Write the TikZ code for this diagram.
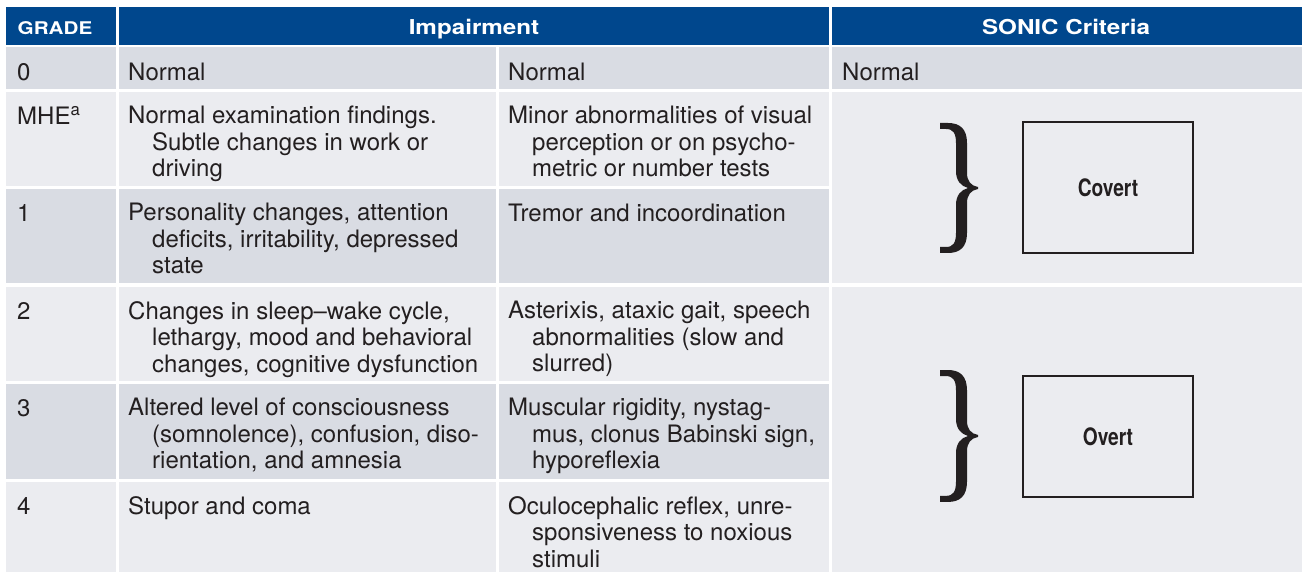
\documentclass[tikz,border=0pt]{standalone}
\usepackage{fontspec}
\setmainfont{TeX Gyre Heros}
\newfontfamily\condfont[FakeStretch=0.80]{TeX Gyre Heros}
\newfontfamily\widefont[FakeStretch=1.18]{TeX Gyre Heros}
\definecolor{hdrblue}{RGB}{0,71,141}
\definecolor{rowdark}{RGB}{217,220,227}
\definecolor{rowlight}{RGB}{235,236,240}
\definecolor{ink}{RGB}{35,31,32}
\tikzset{
  % body text: the node is placed by the baseline of its first line minus 18pt
  body/.style={anchor=north west, inner sep=0pt, align=left, text=ink,
    font=\fontsize{24}{26.5}\selectfont,
    execute at begin node={\rule{0pt}{18pt}}},
  hdr/.style={anchor=base, inner sep=0pt, text=white,
    font=\fontsize{20.5}{24}\selectfont\widefont\bfseries},
  stage/.style={draw=ink, line width=2pt, text=ink, inner sep=0pt,
    font=\fontsize{24}{26}\selectfont\condfont\bfseries},
}
% curly brace, 38 wide and 130 high, opening to the left
\newcommand{\bracefill}{%
  \fill[ink] (0,0) -- (8,0) .. controls (20,0) and (27,6) .. (27,20) -- (27,50)
    .. controls (27,58) and (31,63) .. (38,64) -- (38,66)
    .. controls (31,67) and (27,72) .. (27,80) -- (27,110)
    .. controls (27,124) and (20,130) .. (8,130) -- (0,130) -- (0,124) -- (6,124)
    .. controls (13,124) and (16,120) .. (16,110) -- (16,82)
    .. controls (16,72) and (21,67) .. (28,65)
    .. controls (21,63) and (16,58) .. (16,48) -- (16,20)
    .. controls (16,10) and (13,6) .. (6,6) -- (0,6) -- cycle;}
\newcommand{\hi}{\hspace*{24pt}}
\begin{document}
\begin{tikzpicture}[x=1pt,y=-1pt]
\useasboundingbox (0,0) rectangle (1302,572);
\fill[white] (0,0) rectangle (1302,572);
% header band
\fill[hdrblue] (6,7) rectangle (116,45);
\fill[hdrblue] (119,7) rectangle (829,45);
\fill[hdrblue] (832,7) rectangle (1302,45);
% row fills: columns 1 to 3
\foreach \top/\bot/\col in {47/89/rowdark, 92/186/rowlight, 189/283/rowdark,
                             287/381/rowlight, 384/479/rowdark, 482/572/rowlight}{
  \fill[\col] (6,\top) rectangle (116,\bot);
  \fill[\col] (119,\top) rectangle (496,\bot);
  \fill[\col] (499,\top) rectangle (829,\bot);
}
% SONIC column
\fill[rowdark] (832,47) rectangle (1302,89);
\fill[rowlight] (832,92) rectangle (1302,283);
\fill[rowlight] (832,287) rectangle (1302,572);

% header texts
\node[hdr, font=\fontsize{17.5}{24}\selectfont\widefont\bfseries] (hgrade) at (55,34.5) {GRADE};
\node[hdr] (himp) at (474,34.5) {Impairment};
\node[hdr] (hsonic) at (1066,34.5) {SONIC Criteria};

% grade column
\node[body] (g0) at (17,62) {0};
\node[body] (gm) at (17,106) {MHE\textsuperscript{a}};
\node[body] (g1) at (17,203) {1};
\node[body] (g2) at (17,301) {2};
\node[body] (g3) at (17,398) {3};
\node[body] (g4) at (17,496) {4};

% impairment, first column
\node[body] (a0) at (128,62) {Normal};
\node[body] (am) at (128,106) {Normal examination findings.\\\hi Subtle changes in work or\\\hi driving};
\node[body] (a1) at (128,203) {Personality changes, attention\\\hi deficits, irritability, depressed\\\hi state};
\node[body] (a2) at (128,301) {Changes in sleep--wake cycle,\\\hi lethargy, mood and behavioral\\\hi changes, cognitive dysfunction};
\node[body] (a3) at (128,398) {Altered level of consciousness\\\hi (somnolence), confusion, diso-\\\hi rientation, and amnesia};
\node[body] (a4) at (128,496) {Stupor and coma};

% impairment, second column
\node[body] (b0) at (508,62) {Normal};
\node[body] (bm) at (508,106) {Minor abnormalities of visual\\\hi perception or on psycho-\\\hi metric or number tests};
\node[body] (b1) at (508,203) {Tremor and incoordination};
\node[body] (b2) at (508,301) {Asterixis, ataxic gait, speech\\\hi abnormalities (slow and\\\hi slurred)};
\node[body] (b3) at (508,398) {Muscular rigidity, nystag-\\\hi mus, clonus Babinski sign,\\\hi hyporeflexia};
\node[body] (b4) at (508,496) {Oculocephalic reflex, unre-\\\hi sponsiveness to noxious\\\hi stimuli};

% SONIC criteria
\node[body] (s0) at (842,62) {Normal};
\begin{scope}[shift={(940,123)}]
  \bracefill
\end{scope}
\begin{scope}[shift={(940,370)}, yscale=1.015]
  \bracefill
\end{scope}
\node[stage, minimum width=170pt, minimum height=131pt] (covert) at (1108,187.5) {Covert};
\node[stage, minimum width=170pt, minimum height=121pt] (overt) at (1108,436.5) {Overt};
\end{tikzpicture}
\end{document}
